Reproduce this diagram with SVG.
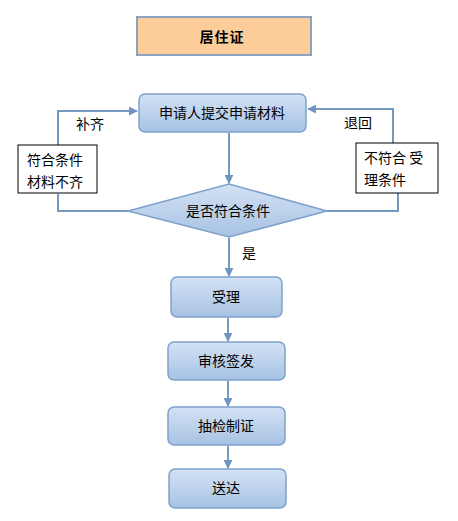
<svg xmlns="http://www.w3.org/2000/svg" width="458" height="521" viewBox="0 0 458 521">
<defs>
<linearGradient id="g" x1="0" y1="0" x2="0" y2="1">
<stop offset="0" stop-color="#d3e2f4"/>
<stop offset="1" stop-color="#a7c2e3"/>
</linearGradient>
<marker id="a" viewBox="0 0 10 10" refX="9" refY="5" markerWidth="4.5" markerHeight="4.5" orient="auto" markerUnits="strokeWidth">
<path d="M0,0 L10,5 L0,10 z" fill="#6f95c0"/>
</marker>
<style>
.t{font-family:"Noto Sans CJK SC","Liberation Sans",sans-serif;font-size:14px;fill:#000}
.n{fill:url(#g);stroke:#7ea1cc;stroke-width:1.5}
.c{fill:none;stroke:#7699c2;stroke-width:2}
.ca{fill:none;stroke:#7699c2;stroke-width:2;marker-end:url(#a)}
</style>
</defs>
<rect width="458" height="521" fill="#fff"/>
<g id="title">
<rect x="137" y="17" width="174" height="38" fill="#fccc99" stroke="#8aa2bd" stroke-width="2"/>
<text class="t" x="222" y="42" text-anchor="middle" font-weight="bold" font-size="16" letter-spacing="1">居住证</text>
</g>
<g id="connectors">
<path class="ca" d="M58,147 V111 H137"/>
<path class="ca" d="M393,143 V109 H308"/>
<path class="c" d="M58,194 V211 H128"/>
<path class="c" d="M327,211 H398 V193"/>
<path class="ca" d="M229,133 V183"/>
<path class="ca" d="M229,238 V276"/>
<path class="ca" d="M228,318 V341"/>
<path class="ca" d="M228,381 V406"/>
<path class="ca" d="M228,446 V468"/>
</g>
<g id="apply">
<rect class="n" x="139" y="94" width="167" height="38" rx="6"/>
<text class="t" x="222" y="118" text-anchor="middle">申请人提交申请材料</text>
</g>
<g id="left">
<rect x="18" y="145" width="79" height="48" fill="#fff" stroke="#000" stroke-width="1"/>
<text class="t" x="27" y="165">符合条件</text>
<text class="t" x="27" y="187">材料不齐</text>
</g>
<g id="right">
<rect x="356" y="143" width="82" height="50" fill="#fff" stroke="#000" stroke-width="1"/>
<text class="t" x="364" y="163">不符合 受</text>
<text class="t" x="364" y="185">理条件</text>
</g>
<g id="decision">
<polygon class="n" points="229,184 327,211 229,237 128,211"/>
<text class="t" x="228" y="216" text-anchor="middle">是否符合条件</text>
</g>
<g id="accept">
<rect class="n" x="171" y="277" width="111" height="40" rx="6"/>
<text class="t" x="226" y="302" text-anchor="middle">受理</text>
</g>
<g id="review">
<rect class="n" x="168" y="342" width="117" height="38" rx="6"/>
<text class="t" x="226" y="366" text-anchor="middle">审核签发</text>
</g>
<g id="check">
<rect class="n" x="168" y="407" width="117" height="38" rx="6"/>
<text class="t" x="226" y="431" text-anchor="middle">抽检制证</text>
</g>
<g id="deliver">
<rect class="n" x="169" y="469" width="117" height="39" rx="6"/>
<text class="t" x="226" y="493" text-anchor="middle">送达</text>
</g>
<g id="labels">
<text class="t" x="76" y="129">补齐</text>
<text class="t" x="344" y="128">退回</text>
<text class="t" x="242" y="258">是</text>
</g>
</svg>
